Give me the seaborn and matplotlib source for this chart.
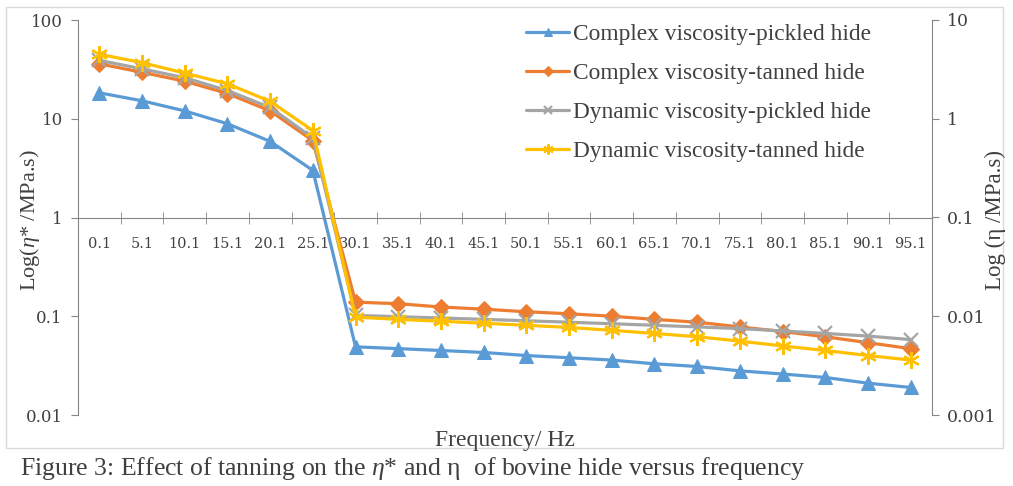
import numpy as np
import pandas as pd
import seaborn as sns
import matplotlib.pyplot as plt
from matplotlib.patches import Rectangle

# frequency categories (Hz)
freq = ['0.1', '5.1', '10.1', '15.1', '20.1', '25.1', '30.1', '35.1', '40.1', '45.1',
        '50.1', '55.1', '60.1', '65.1', '70.1', '75.1', '80.1', '85.1', '90.1', '95.1']

# complex viscosity eta* (left axis, MPa.s)
complex_pickled = [18.3, 15.2, 12.0, 8.9, 5.9, 3.0, 0.049, 0.047, 0.045, 0.043,
                   0.040, 0.038, 0.036, 0.033, 0.031, 0.028, 0.026, 0.024, 0.021, 0.019]
complex_tanned = [36.0, 29.5, 24.0, 18.0, 12.0, 6.0, 0.139, 0.134, 0.124, 0.118,
                  0.111, 0.106, 0.100, 0.093, 0.087, 0.078, 0.070, 0.062, 0.054, 0.047]

# dynamic viscosity eta (right axis, MPa.s)
dynamic_pickled = [3.9, 3.2, 2.6, 1.93, 1.3, 0.64, 0.0102, 0.0099, 0.0096, 0.0093,
                   0.0090, 0.0087, 0.0084, 0.0081, 0.0078, 0.0075, 0.0071, 0.0067, 0.0063, 0.0058]
dynamic_tanned = [4.5, 3.7, 2.9, 2.26, 1.5, 0.76, 0.0098, 0.0093, 0.0089, 0.0085,
                  0.0081, 0.0077, 0.0072, 0.0067, 0.0062, 0.0056, 0.0050, 0.0045, 0.0040, 0.0036]

left_ticks = [0.01, 0.1, 1, 10, 100]
left_labels = ['0.01', '0.1', '1', '10', '100']
right_ticks = [0.001, 0.01, 0.1, 1, 10]
right_labels = ['0.001', '0.01', '0.1', '1', '10']

sns.set_style("white")
plt.rcParams['font.family'] = ['Liberation Serif', 'DejaVu Serif']
plt.rcParams['mathtext.fontset'] = 'custom'
plt.rcParams['mathtext.rm'] = 'Liberation Serif'
plt.rcParams['mathtext.it'] = 'Liberation Serif:italic'

txt = '#404040'
axc = '#868686'

fig = plt.figure(figsize=(10.13, 4.86), dpi=100)
fig.patches.append(Rectangle((6/1013, 1-448/486), 997/1013, 441/486, transform=fig.transFigure,
                             fill=False, edgecolor='#D9D9D9', linewidth=1))
ax = fig.add_axes([78/1013, 1-415/486, 854/1013, 395/486])
ax2 = ax.twinx()

lw = 2.3
sns.lineplot(x=freq, y=complex_pickled, ax=ax, sort=False, color='#5B9BD5', lw=lw, ls='-',
             marker='^', markersize=10.5, markeredgecolor='#5B9BD5', label='Complex viscosity-pickled hide')
sns.lineplot(x=freq, y=complex_tanned, ax=ax, sort=False, color='#ED7D31', lw=lw, ls='-',
             marker='D', markersize=8, markeredgecolor='#ED7D31', label='Complex viscosity-tanned hide')
sns.lineplot(x=freq, y=dynamic_pickled, ax=ax2, sort=False, color='#A5A5A5', lw=lw, ls='-',
             marker='x', markersize=10, markeredgewidth=1.6, markeredgecolor='#A5A5A5',
             label='Dynamic viscosity-pickled hide')
sns.lineplot(x=freq, y=dynamic_tanned, ax=ax2, sort=False, color='#FFC000', lw=lw, ls='-',
             marker=(6, 2, 0), markersize=12, markeredgewidth=1.6, markeredgecolor='#FFC000',
             label='Dynamic viscosity-tanned hide')

ax.set_yscale('log')
ax.set_ylim(0.01, 100)
ax2.set_yscale('log')
ax2.set_ylim(0.001, 10)
ax.set_xlim(-0.5, len(freq) - 0.5)

ax.set_yticks(left_ticks)
ax.set_yticklabels(left_labels, family='DejaVu Serif')
ax.yaxis.set_minor_locator(plt.NullLocator())
ax2.set_yticks(right_ticks)
ax2.set_yticklabels(right_labels, family='DejaVu Serif')
ax2.yaxis.set_minor_locator(plt.NullLocator())

for a in (ax, ax2):
    for s in a.spines.values():
        s.set_visible(False)
ax.spines['left'].set_visible(True)
ax.spines['left'].set_color(axc)
ax.spines['bottom'].set_visible(True)
ax.spines['bottom'].set_color(axc)
ax.spines['bottom'].set_position(('data', 1))
ax2.spines['right'].set_visible(True)
ax2.spines['right'].set_color(axc)

ax.tick_params(axis='y', which='major', direction='out', length=5, color=axc, left=True,
               labelsize=12, labelcolor=txt, pad=6)
ax2.tick_params(axis='y', which='major', direction='out', length=5, color=axc, right=True,
                labelsize=12.5, labelcolor=txt, pad=6)
ax.set_xticks(range(len(freq)))
ax.set_xticklabels(freq, family='DejaVu Serif')
ax.set_xticks(np.arange(0.5, len(freq) - 1, 1), minor=True)
ax.tick_params(axis='x', which='major', length=0, labelsize=10.5, labelcolor=txt, pad=14)
ax.tick_params(axis='x', which='minor', direction='inout', length=9, color=axc, bottom=True)

ax.set_xlabel('')
ax.set_ylabel('')
ax2.set_ylabel('')
fig.text(30/1013, 1-220/486, r'Log($\eta$* /MPa.s)', rotation=90, ha='center', va='center',
         fontsize=16, color=txt)
fig.text(995/1013, 1-220/486, 'Log (η /MPa.s)', rotation=90, ha='center', va='center',
         fontsize=16.5, color=txt)

ax.get_legend().remove()
ax2.get_legend().remove()
h1, l1 = ax.get_legend_handles_labels()
h2, l2 = ax2.get_legend_handles_labels()
fig.legend(h1 + h2, l1 + l2, loc='upper left', bbox_to_anchor=(505/1013, 1-3/486),
           frameon=False, fontsize=16.8, labelcolor=txt, handlelength=1.85, handletextpad=0.15,
           labelspacing=0.75, markerscale=0.6)

fig.text(505/1013, 1-440/486, 'Frequency/ Hz', ha='center', va='center', fontsize=17, color=txt)
fig.text(20/1013, 1-468/486, r'Figure 3: Effect of tanning on the $\eta$* and η  of bovine hide versus frequency',
         ha='left', va='center', fontsize=18.5, color=txt)

fig.savefig('out.png', dpi=100)
